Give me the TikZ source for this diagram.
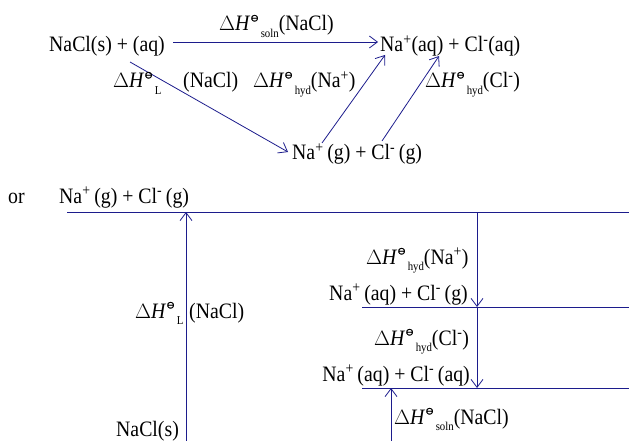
\documentclass[tikz,border=0pt]{standalone}
\usepackage{fontspec}
\setmainfont{Liberation Serif}[FakeStretch=0.9]
\newfontfamily\symfont{DejaVu Sans}[FakeBold=1.5]
\usetikzlibrary{arrows.meta}
\definecolor{linecol}{RGB}{28,28,140}
% standard enthalpy change with a lowered subscript after the plimsoll sign
\newcommand{\dH}[1]{$\Delta$\textit{H}\raisebox{0.95ex}{\symfont\fontsize{10}{10}\selectfont ⊖}\raisebox{-0.6ex}{\fontsize{12}{12}\selectfont\,#1}}
\newcommand{\ion}[1]{\textsuperscript{#1}}
\tikzset{
  lbl/.style={inner sep=0pt, font=\fontsize{22}{25}\selectfont},
  link/.style={draw=linecol, line width=0.8pt, -{Straight Barb[length=8pt,width=12pt,line width=0.8pt]}},
  level/.style={draw=linecol, line width=1pt}
}
\begin{document}
\begin{tikzpicture}[x=1pt,y=-1pt]
\useasboundingbox (0,0) rectangle (629,441);

% ---- cycle ----
\node[lbl, anchor=base west] (s) at (49,52) {NaCl(s) + (aq)};
\node[lbl, anchor=base west] (aq) at (380,52) {Na\ion{+}(aq) + Cl\ion{-}(aq)};
\node[lbl, anchor=base west] (g) at (292,160) {Na\ion{+}\,(g) + Cl\ion{-}\,(g)};
\coordinate (s0) at (173,42);
\coordinate (s1) at (378,42);
\draw[link] (s0) -- (s1);
\node[lbl, anchor=base west] (lsoln) at (219,31) {\dH{soln}(NaCl)};

\coordinate (d0) at (130,62);
\coordinate (d1) at (288,152);
\draw[link] (d0) -- (d1);
\node[lbl, anchor=base west] (lL) at (113,88) {\dH{L}};
\node[lbl, anchor=base west] (lLn) at (183,88) {(NaCl)};

\coordinate (h0) at (322,143);
\coordinate (h1) at (385,55);
\draw[link] (h0) -- (h1);
\node[lbl, anchor=base west] (lna) at (253,88) {\dH{hyd}(Na\ion{+})};

\coordinate (c0) at (382,141);
\coordinate (c1) at (439,56);
\draw[link] (c0) -- (c1);
\node[lbl, anchor=base west] (lcl) at (425,88) {\dH{hyd}(Cl\ion{-})};

% ---- energy levels ----
\node[lbl, anchor=base west] (or) at (8,203) {or};
\node[lbl, anchor=base west] (gas) at (59,203) {Na\ion{+}\,(g) + Cl\ion{-}\,(g)};
\coordinate (top0) at (67,212);
\coordinate (top1) at (629,212);
\draw[level] (top0) -- (top1);

\coordinate (mid0) at (362,307);
\coordinate (mid1) at (629,307);
\draw[level] (mid0) -- (mid1);
\coordinate (low0) at (362,388);
\coordinate (low1) at (629,388);
\draw[level] (low0) -- (low1);

\coordinate (lat0) at (186,441);
\coordinate (lat1) at (186,212);
\draw[link] (lat0) -- (lat1);
\node[lbl, anchor=base west] (solid) at (116,436) {NaCl(s)};
\node[lbl, anchor=base west] (vL) at (135,318) {\dH{L}};
\node[lbl, anchor=base west] (vLn) at (189,318) {(NaCl)};

\coordinate (na0) at (477,212);
\coordinate (na1) at (477,307);
\draw[link] (na0) -- (na1);
\coordinate (cl1) at (477,388);
\draw[link] (na1) -- (cl1);
\node[lbl, anchor=base west] (vna) at (366,264) {\dH{hyd}(Na\ion{+})};
\node[lbl, anchor=base east] (mid) at (468,300) {Na\ion{+}\,(aq) + Cl\ion{-}\,(g)};
\node[lbl, anchor=base west] (vcl) at (374,345) {\dH{hyd}(Cl\ion{-})};
\node[lbl, anchor=base east] (low) at (470,381) {Na\ion{+}\,(aq) + Cl\ion{-}\,(aq)};

\coordinate (so0) at (391,441);
\coordinate (so1) at (391,388);
\draw[link] (so0) -- (so1);
\node[lbl, anchor=base west] (vsoln) at (394,424) {\dH{soln}(NaCl)};
\end{tikzpicture}
\end{document}
